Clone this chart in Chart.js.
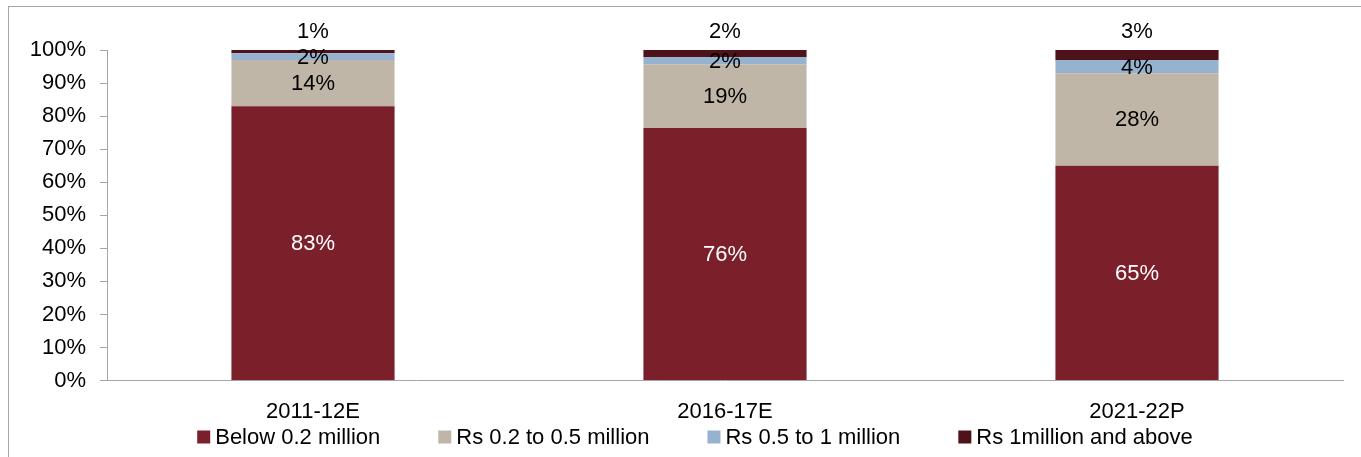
<!DOCTYPE html>
<html>
<head>
<meta charset="utf-8">
<script src="https://cdn.jsdelivr.net/npm/chart.js@4.4.1/dist/chart.umd.min.js"></script>
<style>
  html, body { margin: 0; padding: 0; background: #fff; }
  #wrap { width: 1361px; height: 457px; position: relative; }
</style>
</head>
<body>
<div id="wrap"><canvas id="myChart"></canvas></div>
<script>
"use strict";
const years = ["2011-12E", "2016-17E", "2021-22P"];
const seriesNames = ["Below 0.2 million", "Rs 0.2 to 0.5 million", "Rs 0.5 to 1 million", "Rs 1million and above"];
const below02 = [83, 76.4, 65];
const from02to05 = [14, 19.3, 28];
const from05to1 = [2, 2.2, 4];
const above1 = [1, 2.1, 3];
const yTicks = [0, 10, 20, 30, 40, 50, 60, 70, 80, 90, 100];

const colors = ["#7b1f2b", "#bfb6a8", "#95b3cf", "#4d121a"];
const font = { family: "'Liberation Sans', Arial, sans-serif", size: 22 };
const axisGray = "#a6a6a6";

const frame = {
  id: "frame",
  beforeDraw(chart) {
    const c = chart.ctx;
    c.save();
    c.fillStyle = "#fff";
    c.fillRect(0, 0, chart.width, chart.height);
    c.strokeStyle = axisGray;
    c.lineWidth = 1;
    c.strokeRect(8.5, 6.5, chart.width + 20, chart.height + 20);
    c.restore();
  },
};

const barLabels = {
  id: "barLabels",
  afterDatasetsDraw(chart) {
    const c = chart.ctx;
    c.save();
    c.font = font.size + "px " + font.family;
    c.textAlign = "center";
    c.textBaseline = "middle";
    chart.data.datasets.forEach((ds, i) => {
      chart.getDatasetMeta(i).data.forEach((bar, j) => {
        const txt = Math.round(ds.data[j]) + "%";
        let y = (bar.y + bar.base) / 2 + 1;
        if (i === 3) y = bar.y - 18;
        c.fillStyle = i === 0 ? "#fff" : "#000";
        c.fillText(txt, bar.x, y);
      });
    });
    c.restore();
  },
};

const bottomLegend = {
  id: "bottomLegend",
  afterDraw(chart) {
    const c = chart.ctx;
    c.save();
    c.font = font.size + "px " + font.family;
    c.textBaseline = "middle";
    const box = 13, gapText = 5, gapItem = 58;
    const widths = seriesNames.map((n) => box + gapText + c.measureText(n).width);
    const total = widths.reduce((a, w) => a + w, 0) + gapItem * (widths.length - 1);
    let x = 695 - total / 2;
    const y = 437;
    seriesNames.forEach((n, i) => {
      c.fillStyle = colors[i];
      c.fillRect(x, y - box / 2, box, box);
      c.fillStyle = "#000";
      c.fillText(n, x + box + gapText, y + 1);
      x += widths[i] + gapItem;
    });
    c.restore();
  },
};

const ctx = document.getElementById("myChart");
const seriesData = [below02, from02to05, from05to1, above1];

new Chart(ctx, {
  type: "bar",
  data: {
    labels: years,
    datasets: seriesNames.map((name, i) => ({
      label: name,
      data: seriesData[i],
      backgroundColor: colors[i],
      borderWidth: 0,
      barPercentage: 0.792,
      categoryPercentage: 0.5,
    })),
  },
  options: {
    responsive: true,
    maintainAspectRatio: false,
    animation: false,
    layout: { padding: { left: 30, right: 18, top: 50, bottom: 22 } },
    plugins: {
      legend: { display: false },
      tooltip: { enabled: false },
    },
    scales: {
      x: {
        stacked: true,
        border: { display: true, color: axisGray, width: 1 },
        grid: { display: false },
        ticks: { color: "#000", font: font, padding: 10 },
      },
      y: {
        stacked: true,
        min: 0,
        max: 100,
        afterFit: (scale) => { scale.width = 77; },
        afterBuildTicks: (scale) => { scale.ticks = yTicks.map((v) => ({ value: v })); },
        border: { display: true, color: axisGray, width: 1 },
        grid: { drawOnChartArea: false, drawTicks: true, tickLength: 7, color: axisGray },
        ticks: {
          color: "#000",
          font: font,
          padding: 14,
          callback: (v) => v + "%",
        },
      },
    },
  },
  plugins: [frame, barLabels, bottomLegend],
});
</script>
</body>
</html>
